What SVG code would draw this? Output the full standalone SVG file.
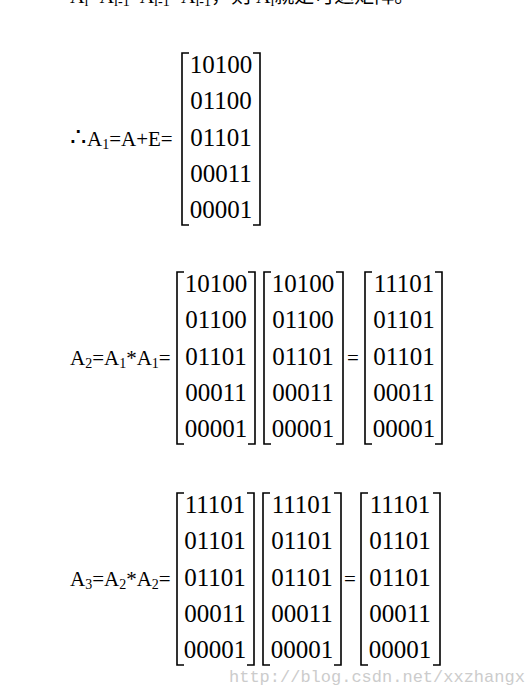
<svg xmlns="http://www.w3.org/2000/svg" width="530" height="695" viewBox="0 0 530 695">
<style>
  .t { font-family: "Liberation Serif", "Times New Roman", serif; fill: #000; }
  .cj { font-family: "Liberation Serif", "Noto Sans CJK SC", serif; fill: #000; font-size: 20px; }
  .lab { font-family: "Liberation Serif", "Times New Roman", serif; font-size: 21px; }
  .sub { font-size: 14px; }
  .num { font-family: "Liberation Serif", "Times New Roman", serif; font-size: 25px; text-anchor: middle; }
  .br { fill: none; stroke: #000; stroke-width: 1.6; }
  .wm { font-family: "Liberation Mono", "DejaVu Sans Mono", monospace; font-size: 17px; fill: #cccccc; }
</style>
<defs>
  <g id="bl"><path class="br" d="M7,0 H0 V172 H7"/></g>
  <g id="brr"><path class="br" d="M-7,0 H0 V172 H-7"/></g>
</defs>
<rect width="530" height="695" fill="#fff"/>

<g id="top-line">
  <text class="cj" x="70" y="3">A<tspan class="sub" dy="3">l</tspan><tspan dy="-3">=A</tspan><tspan class="sub" dy="3">l-1</tspan><tspan dy="-3">*A</tspan><tspan class="sub" dy="3">l-1</tspan><tspan dy="-3">=A</tspan><tspan class="sub" dy="3">l-1</tspan><tspan dy="-3">，则 A</tspan><tspan class="sub" dy="3">l</tspan><tspan dy="-3">就是可达矩阵。</tspan></text>
</g>

<g id="eq1">
  <text class="t lab" x="70" y="146"><tspan font-size="26">∴</tspan>A<tspan class="sub" dy="3">1</tspan><tspan dy="-3">=A+E=</tspan></text>
  <use href="#bl" x="182" y="53"/>
  <use href="#brr" x="260" y="53"/>
  <g class="t num">
    <text class="num" x="221" y="73">10100</text>
    <text class="num" x="221" y="109">01100</text>
    <text class="num" x="221" y="146">01101</text>
    <text class="num" x="221" y="182">00011</text>
    <text class="num" x="221" y="218">00001</text>
  </g>
</g>

<g id="eq2">
  <text class="t lab" x="70" y="365">A<tspan class="sub" dy="3">2</tspan><tspan dy="-3">=A</tspan><tspan class="sub" dy="3">1</tspan><tspan dy="-3">*A</tspan><tspan class="sub" dy="3">1</tspan><tspan dy="-3">=</tspan></text>
  <use href="#bl" x="177" y="272"/>
  <use href="#brr" x="255" y="272"/>
  <use href="#bl" x="264" y="272"/>
  <use href="#brr" x="343" y="272"/>
  <text class="t lab" x="347" y="365">=</text>
  <use href="#bl" x="365" y="272"/>
  <use href="#brr" x="442" y="272"/>
  <g class="t num">
    <text class="num" x="216" y="292">10100</text>
    <text class="num" x="216" y="328">01100</text>
    <text class="num" x="216" y="365">01101</text>
    <text class="num" x="216" y="401">00011</text>
    <text class="num" x="216" y="437">00001</text>
    <text class="num" x="303" y="292">10100</text>
    <text class="num" x="303" y="328">01100</text>
    <text class="num" x="303" y="365">01101</text>
    <text class="num" x="303" y="401">00011</text>
    <text class="num" x="303" y="437">00001</text>
    <text class="num" x="404" y="292">11101</text>
    <text class="num" x="404" y="328">01101</text>
    <text class="num" x="404" y="365">01101</text>
    <text class="num" x="404" y="401">00011</text>
    <text class="num" x="404" y="437">00001</text>
  </g>
</g>

<g id="eq3">
  <text class="t lab" x="70" y="586">A<tspan class="sub" dy="3">3</tspan><tspan dy="-3">=A</tspan><tspan class="sub" dy="3">2</tspan><tspan dy="-3">*A</tspan><tspan class="sub" dy="3">2</tspan><tspan dy="-3">=</tspan></text>
  <use href="#bl" x="177" y="493"/>
  <use href="#brr" x="254" y="493"/>
  <use href="#bl" x="263" y="493"/>
  <use href="#brr" x="341" y="493"/>
  <text class="t lab" x="344" y="586">=</text>
  <use href="#bl" x="361" y="493"/>
  <use href="#brr" x="440" y="493"/>
  <g class="t num">
    <text class="num" x="215" y="513">11101</text>
    <text class="num" x="215" y="549">01101</text>
    <text class="num" x="215" y="586">01101</text>
    <text class="num" x="215" y="622">00011</text>
    <text class="num" x="215" y="658">00001</text>
    <text class="num" x="302" y="513">11101</text>
    <text class="num" x="302" y="549">01101</text>
    <text class="num" x="302" y="586">01101</text>
    <text class="num" x="302" y="622">00011</text>
    <text class="num" x="302" y="658">00001</text>
    <text class="num" x="400" y="513">11101</text>
    <text class="num" x="400" y="549">01101</text>
    <text class="num" x="400" y="586">01101</text>
    <text class="num" x="400" y="622">00011</text>
    <text class="num" x="400" y="658">00001</text>
  </g>
</g>

<text class="wm" x="229" y="682">http://blog.csdn.net/xxzhangx</text>
</svg>
